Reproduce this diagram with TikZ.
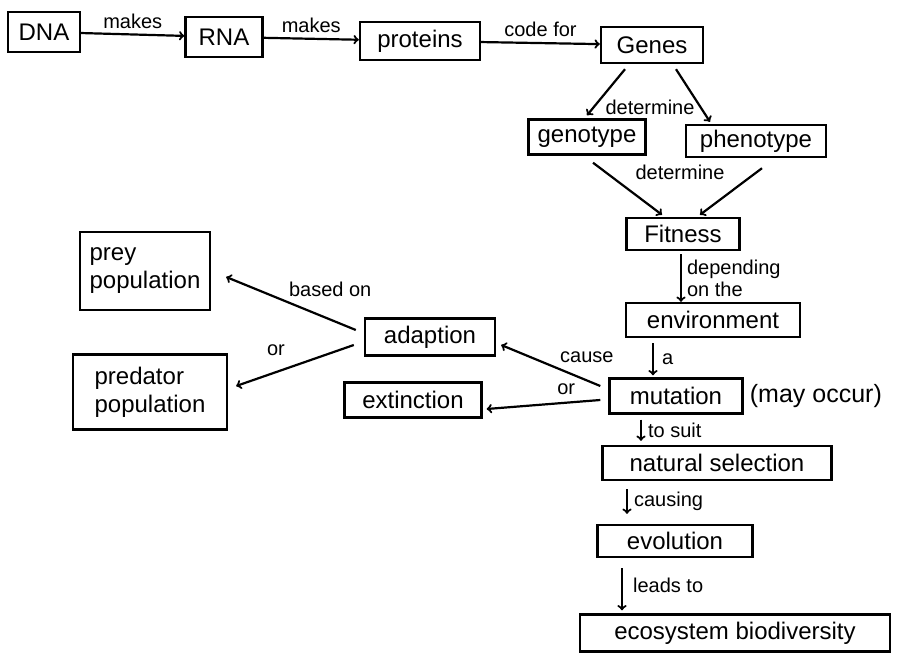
\documentclass[tikz,border=0pt]{standalone}
\usepackage{fontspec}
\setmainfont{Liberation Sans}
\usetikzlibrary{positioning}

\tikzset{
	concept/.style={draw,line width=2.4pt,inner sep=3pt,font=\fontsize{24}{28}\selectfont},
	link/.style={->,line width=2.2pt},
	tag/.style={font=\fontsize{20}{22}\selectfont,inner sep=2pt},
}

\begin{document}
\begin{tikzpicture}[x=1pt,y=-1pt]
	\useasboundingbox (0,0) rectangle (914,666);
	% top row
	\node[concept,minimum width=72pt,minimum height=40pt] (dna) at (44,32) {DNA};
	\node[concept,minimum width=77pt,minimum height=40pt] (rna) at (224,37) {RNA};
	\node[concept,minimum width=120pt,minimum height=38pt] (proteins) at (420,41) {proteins};
	\node[concept,minimum width=102pt,minimum height=36pt] (genes) at (652,45) {Genes};
	% right column
	\node[concept,minimum width=117pt,minimum height=35pt] (genotype) at (587,137) {genotype};
	\node[concept,minimum width=140pt,minimum height=32pt] (phenotype) at (756,141) {phenotype};
	\node[concept,minimum width=113pt,minimum height=32pt] (fitness) at (683,234) {Fitness};
	\node[concept,minimum width=174pt,minimum height=34pt] (environment) at (713,320) {environment};
	\node[concept,minimum width=133pt,minimum height=35pt] (mutation) at (676,396) {mutation};
	\node[tag,font=\fontsize{25}{28}\selectfont,right=4pt of mutation] (mayoccur) {(may occur)};
	\node[concept,minimum width=229pt,minimum height=34pt] (natsel) at (717,463) {natural selection};
	\node[concept,minimum width=155pt,minimum height=32pt] (evolution) at (675,541) {evolution};
	\node[concept,minimum width=310pt,minimum height=37pt] (ecosystem) at (735,633) {ecosystem biodiversity};
	% left part
	\node[concept,minimum width=130pt,minimum height=37pt] (adaption) at (430,337) {adaption};
	\node[concept,minimum width=137pt,minimum height=35pt] (extinction) at (413,400) {extinction};
	\node[concept,minimum width=130pt,minimum height=78pt,align=left] (prey) at (145,271) {prey\\population};
	\node[concept,minimum width=154pt,minimum height=75pt,align=left] (predator) at (150,392) {predator\\population};

	\draw[link] (dna) -- node[tag,above=3pt] {makes} (rna);
	\draw[link] (rna) -- node[tag,above=3pt] {makes} (proteins);
	\draw[link] (proteins) -- node[tag,above=3pt] {code for} (genes);

	\draw[link] ([xshift=-27pt,yshift=-5pt]genes.south) -- ([yshift=3pt]genotype.north);
	\draw[link] ([xshift=24pt,yshift=-5pt]genes.south) -- ([xshift=-46pt,yshift=2pt]phenotype.north);
	\node[tag] (determineA) at (650,107) {determine};
	\draw[link] ([xshift=6pt,yshift=-7pt]genotype.south) -- ([xshift=-21pt,yshift=2pt]fitness.north);
	\draw[link] ([xshift=6pt,yshift=-10pt]phenotype.south) -- ([xshift=17pt,yshift=2pt]fitness.north);
	\node[tag] (determineB) at (680,172) {determine};

	\draw[link] ([xshift=-2pt,yshift=-3pt]fitness.south) -- node[tag,right=3pt,align=left] {depending\\on the} ([xshift=-32pt]environment.north);
	\draw[link] ([xshift=-60pt,yshift=-5pt]environment.south) -- node[tag,right=6pt] {a} ([xshift=-23pt,yshift=2pt]mutation.north);

	\draw[link] ([xshift=-8pt,yshift=10pt]mutation.west) -- node[tag,above right=2pt,pos=0.45] {cause} ([xshift=5pt,yshift=-8pt]adaption.east);
	\draw[link] ([xshift=-8pt,yshift=-4pt]mutation.west) -- node[tag,above=5pt,pos=0.3] {or} ([xshift=4pt,yshift=-9pt]extinction.east);
	\draw[link] ([xshift=-8pt,yshift=7pt]adaption.west) -- node[tag,above right=2pt,pos=0.55] {based on} ([xshift=15pt,yshift=-6pt]prey.east);
	\draw[link] ([xshift=-10pt,yshift=-8pt]adaption.west) -- node[tag,above left=10pt] {or} ([xshift=8pt,yshift=6pt]predator.east);

	\draw[link] ([xshift=-35pt,yshift=-5pt]mutation.south) -- node[tag,right=4pt] {to suit} ([xshift=-76pt,yshift=4pt]natsel.north);
	\draw[link] ([xshift=-90pt,yshift=-8pt]natsel.south) -- node[tag,right=4pt] {causing} ([xshift=-48pt,yshift=10pt]evolution.north);
	\draw[link] ([xshift=-53pt,yshift=-10pt]evolution.south) -- node[tag,right=8pt,pos=0.4] {leads to} ([xshift=-113pt,yshift=3pt]ecosystem.north);
\end{tikzpicture}
\end{document}
